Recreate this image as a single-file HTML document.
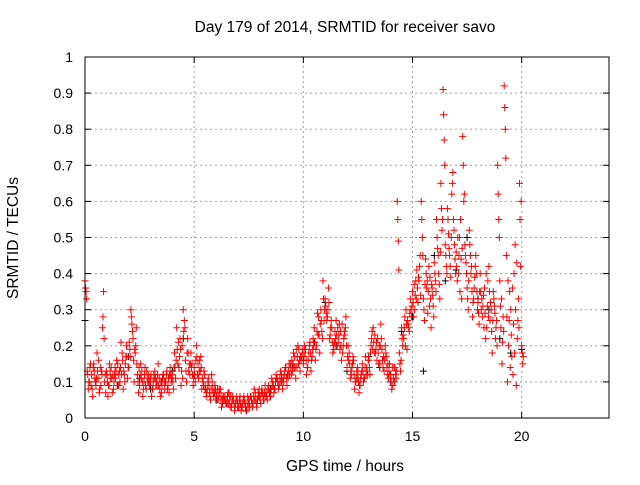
<!DOCTYPE html>
<html><head><meta charset="utf-8"><style>
body{margin:0;background:#fff}
svg{font-family:"Liberation Sans",sans-serif;font-size:14px}
.big{font-size:15.5px}
</style></head><body>
<svg id="chart" width="640" height="480">
<text class="big" x="345" y="32" text-anchor="middle">Day 179 of 2014, SRMTID for receiver savo</text>
<text class="big" x="345" y="471" text-anchor="middle">GPS time / hours</text>
<text class="big" transform="translate(18,238) rotate(-90)" text-anchor="middle">SRMTID / TECUs</text>
<g id="grid"></g>
<g id="ticks"></g>
<g id="marks"></g>
<rect x="85" y="57" width="524" height="361" fill="none" stroke="#000"/>
</svg>
<script>
const xTicks=[0,5,10,15,20];
const yTicks=[0,0.1,0.2,0.3,0.4,0.5,0.6,0.7,0.8,0.9,1];
const yTickLabels=["0","0.1","0.2","0.3","0.4","0.5","0.6","0.7","0.8","0.9","1"];
const times=[0,0.1,0.2,0.3,0.4,0.5,0.6,0.7,0.8,0.9,1,1.1,1.2,1.3,1.4,1.5,1.6,1.7,1.8,1.9,2,2.1,2.2,2.3,2.4,2.5,2.6,2.7,2.8,2.9,3,3.1,3.2,3.3,3.4,3.5,3.6,3.7,3.8,3.9,4,4.1,4.2,4.3,4.4,4.5,4.6,4.7,4.8,4.9,5,5.1,5.2,5.3,5.4,5.5,5.6,5.7,5.8,5.9,6,6.1,6.2,6.3,6.4,6.5,6.6,6.7,6.8,6.9,7,7.1,7.2,7.3,7.4,7.5,7.6,7.7,7.8,7.9,8,8.1,8.2,8.3,8.4,8.5,8.6,8.7,8.8,8.9,9,9.1,9.2,9.3,9.4,9.5,9.6,9.7,9.8,9.9,10,10.1,10.2,10.3,10.4,10.5,10.6,10.7,10.8,10.9,11,11.1,11.2,11.3,11.4,11.5,11.6,11.7,11.8,11.9,12,12.1,12.2,12.3,12.4,12.5,12.6,12.7,12.8,12.9,13,13.1,13.2,13.3,13.4,13.5,13.6,13.7,13.8,13.9,14,14.1,14.2,14.3,14.4,14.5,14.6,14.7,14.8,14.9,15,15.1,15.2,15.3,15.4,15.5,15.6,15.7,15.8,15.9,16,16.1,16.2,16.3,16.4,16.5,16.6,16.7,16.8,16.9,17,17.1,17.2,17.3,17.4,17.5,17.6,17.7,17.8,17.9,18,18.1,18.2,18.3,18.4,18.5,18.6,18.7,18.8,18.9,19,19.1,19.2,19.3,19.4,19.5,19.6,19.7,19.8,19.9,20];
const redA=[.38,.13,.10,.12,.15,.09,.11,.14,.25,.10,.12,.09,.14,.08,.11,.15,.10,.18,.12,.20,.14,.30,.22,.18,.12,.09,.13,.10,.08,.12,.10,.08,.13,.09,.11,.07,.12,.10,.09,.14,.12,.18,.25,.14,.09,.30,.16,.22,.12,.15,.14,.20,.11,.17,.10,.09,.08,.07,.12,.06,.07,.05,.08,.04,.06,.05,.07,.03,.05,.04,.04,.06,.03,.05,.02,.05,.06,.04,.07,.05,.06,.08,.05,.07,.09,.06,.10,.08,.11,.09,.12,.10,.14,.11,.15,.13,.17,.14,.19,.16,.15,.19,.14,.21,.17,.25,.20,.28,.30,.38,.33,.28,.22,.25,.19,.27,.21,.24,.18,.23,.14,.18,.12,.16,.10,.13,.09,.15,.11,.14,.16,.20,.25,.18,.22,.15,.19,.13,.17,.11,.12,.09,.14,.60,.18,.25,.22,.30,.26,.33,.35,.30,.41,.38,.60,.33,.44,.29,.39,.36,.43,.55,.40,.65,.91,.48,.58,.45,.62,.52,.46,.40,.55,.78,.48,.36,.52,.42,.33,.45,.32,.40,.28,.36,.25,.42,.30,.35,.22,.70,.38,.15,.92,.45,.20,.30,.12,.48,.22,.65,.20];
const redB=[.35,.08,.15,.06,.11,.18,.07,.13,.35,.07,.06,.13,.07,.12,.16,.09,.21,.08,.15,.11,.19,.26,.10,.25,.07,.15,.06,.14,.11,.09,.06,.12,.09,.15,.06,.11,.08,.13,.07,.10,.08,.11,.15,.22,.20,.27,.10,.13,.18,.09,.10,.12,.16,.08,.13,.06,.11,.05,.08,.09,.05,.08,.03,.06,.04,.07,.03,.06,.02,.06,.03,.02,.05,.03,.06,.03,.04,.08,.03,.06,.04,.06,.09,.05,.07,.11,.07,.12,.08,.13,.08,.13,.09,.15,.12,.18,.11,.20,.13,.18,.20,.12,.18,.13,.22,.16,.29,.18,.24,.27,.29,.36,.25,.18,.24,.20,.26,.16,.22,.28,.20,.11,.15,.08,.13,.07,.12,.10,.17,.12,.12,.24,.18,.21,.15,.26,.14,.20,.12,.15,.08,.14,.11,.49,.13,.20,.28,.19,.24,.28,.28,.38,.32,.45,.50,.27,.36,.42,.25,.31,.38,.47,.33,.52,.77,.42,.51,.39,.68,.44,.38,.50,.33,.60,.43,.30,.45,.28,.39,.35,.26,.30,.34,.22,.38,.27,.18,.31,.27,.55,.25,.28,.80,.10,.35,.17,.40,.09,.33,.42,.15];
const redC=[.36,.12,.14,.08,.13,.11,.16,.09,.28,.12,.10,.15,.11,.10,.13,.12,.14,.16,.10,.17,.21,.28,.16,.20,.10,.12,.10,.12,.13,.10,.12,.10,.11,.12,.08,.09,.10,.12,.11,.12,.10,.14,.19,.17,.13,.24,.13,.18,.15,.12,.12,.17,.13,.14,.09,.08,.10,.06,.10,.07,.06,.06,.05,.05,.05,.06,.05,.04,.04,.05,.03,.04,.04,.04,.04,.04,.05,.06,.05,.07,.05,.07,.07,.06,.08,.08,.09,.10,.10,.11,.10,.12,.11,.13,.14,.15,.14,.17,.16,.17,.17,.16,.16,.18,.19,.21,.24,.23,.27,.33,.31,.30,.23,.21,.21,.23,.23,.20,.20,.25,.17,.15,.14,.12,.11,.10,.11,.13,.14,.13,.14,.22,.21,.19,.18,.20,.16,.16,.14,.13,.10,.11,.12,.55,.15,.22,.25,.26,.25,.30,.32,.34,.36,.42,.55,.30,.40,.35,.33,.34,.40,.50,.37,.58,.84,.45,.55,.42,.65,.48,.42,.45,.44,.70,.45,.33,.48,.35,.36,.40,.29,.35,.31,.29,.31,.35,.24,.33,.25,.62,.31,.21,.86,.28,.27,.23,.26,.30,.27,.55,.18];
const redD=[.33,.10,.09,.14,.10,.13,.08,.12,.22,.13,.09,.11,.12,.14,.09,.13,.12,.13,.17,.14,.17,.24,.19,.15,.14,.11,.08,.09,.10,.11,.08,.11,.10,.09,.10,.12,.10,.08,.12,.11,.14,.16,.21,.19,.11,.25,.18,.15,.14,.11,.16,.15,.13,.11,.12,.07,.09,.08,.07,.08,.08,.07,.06,.05,.04,.04,.06,.05,.03,.05,.05,.03,.06,.02,.03,.06,.03,.05,.04,.08,.07,.05,.06,.08,.06,.09,.08,.11,.09,.10,.11,.14,.12,.12,.16,.14,.19,.15,.17,.19,.18,.14,.20,.16,.20,.19,.23,.26,.22,.30,.27,.32,.27,.20,.22,.25,.19,.26,.24,.20,.16,.13,.17,.10,.14,.09,.13,.11,.12,.16,.18,.19,.23,.16,.20,.22,.17,.18,.15,.12,.14,.10,.13,.41,.16,.23,.20,.27,.29,.31,.37,.33,.39,.34,.45,.37,.38,.31,.37,.28,.35,.45,.46,.55,.70,.40,.47,.50,.55,.40,.50,.35,.47,.62,.40,.38,.40,.32,.42,.30,.35,.33,.25,.40,.28,.32,.27,.29,.20,.50,.33,.24,.72,.38,.14,.36,.18,.43,.25,.60,.17];
const blackTimes=[0,0.5,1,1.5,2,2.5,3,3.5,4,4.5,5,5.5,6,6.5,7,7.5,8,8.5,9,9.5,10,10.5,11,11.5,12,12.5,13,13.5,14,14.5,15,15.5,16,16.5,17,17.5,18,18.5,19,19.5,20];
const blackVals=[.27,.10,.12,.09,.17,.11,.08,.10,.13,.22,.12,.08,.05,.04,.03,.05,.06,.08,.11,.14,.16,.21,.32,.20,.13,.11,.17,.14,.10,.24,.28,.13,.45,.38,.41,.50,.33,.30,.22,.18,.19];
const X0=85,X1=609,Y0=418,Y1=57;
const sx=v=>X0+v/24*(X1-X0);
const sy=v=>Y0-v*(Y0-Y1);
const NS="http://www.w3.org/2000/svg";
const grid=document.getElementById('grid'),ticks=document.getElementById('ticks'),marks=document.getElementById('marks');
function mk(tag,attrs,parent){const e=document.createElementNS(NS,tag);for(const k in attrs)e.setAttribute(k,attrs[k]);parent.appendChild(e);return e;}
yTicks.forEach((v,i)=>{
 const y=sy(v);
 if(i>0&&i<yTicks.length-1){const g=mk('line',{x1:X0,x2:X1,y1:y,y2:y,stroke:'#a0a0a0','stroke-dasharray':'2,3'},grid);
 
 }
 mk('line',{x1:X0,x2:X0+6,y1:y,y2:y,stroke:'#000'},ticks);
 mk('line',{x1:X1,x2:X1-6,y1:y,y2:y,stroke:'#000'},ticks);
 const t=mk('text',{x:X0-12,y:y+5,'text-anchor':'end'},ticks);t.textContent=yTickLabels[i];
 
 
});
xTicks.forEach(v=>{
 const x=sx(v);
 if(v>0){const g=mk('line',{x1:x,x2:x,y1:Y0,y2:Y1,stroke:'#a0a0a0','stroke-dasharray':'2,3'},grid);
 
 }
 mk('line',{x1:x,x2:x,y1:Y0,y2:Y0-6,stroke:'#000'},ticks);
 mk('line',{x1:x,x2:x,y1:Y1,y2:Y1+6,stroke:'#000'},ticks);
 const t=mk('text',{x:x,y:Y0+23,'text-anchor':'middle'},ticks);t.textContent=String(v);
 
 
});
function plus(t,v,color){
 const x=sx(t),y=sy(v);
 const p=mk('path',{d:`M${x-3.5},${y}h7M${x},${y-3.5}v7`,stroke:color,'stroke-width':1,fill:'none'},marks);
 
 
}
blackTimes.forEach((t,i)=>plus(t,blackVals[i],'#000'));
times.forEach((t,i)=>plus(t,redA[i],'#ff0000'));
times.forEach((t,i)=>plus(t+0.025,redC[i],'#ff0000'));
times.forEach((t,i)=>plus(t+0.05,redB[i],'#ff0000'));
times.forEach((t,i)=>plus(t+0.075,redD[i],'#ff0000'));
</script>
</body></html>
